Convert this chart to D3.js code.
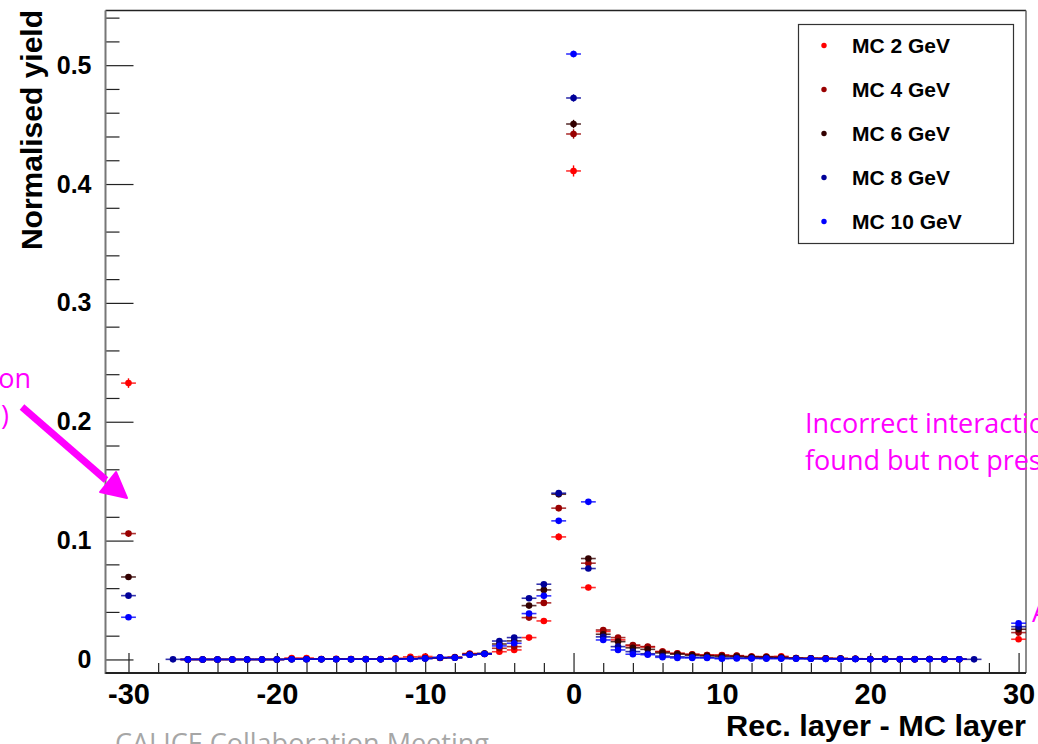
<!DOCTYPE html>
<html lang="en">
<head>
<meta charset="utf-8">
<title>Rec. layer - MC layer</title>
<style>
body {
	margin: 0;
	background: #fff;
}
#chart text {
	font-family: "Liberation Sans", Arial, sans-serif;
}
.tick line {
	stroke: #222;
	stroke-width: 1.2px;
}
.x-label text {
	font-size: 29px;
	font-weight: bold;
	fill: #000;
}
.y-label text {
	font-size: 25px;
	font-weight: bold;
	fill: #000;
}
.title {
	font-size: 30px;
	font-weight: bold;
}
.legend-text {
	font-size: 21px;
	font-weight: bold;
}
#chart text.note {
	font-family: "Open Sans", Lato, sans-serif;
	font-size: 27px;
	fill: #ff00ff;
}
#chart text.footer {
	font-family: "Open Sans", Lato, sans-serif;
	font-size: 27px;
	fill: #a6a6a6;
}
</style>
</head>
<body>
<div id="chart"></div>

<script src="https://d3js.org/d3.v7.min.js"></script>
<script>
	// bins: -30 (no interaction), -27 .. 27, 30
	var layers = [-30].concat(d3.range(-27, 28), [30]);

	var seriesNames = ["MC 2 GeV", "MC 4 GeV", "MC 6 GeV", "MC 8 GeV", "MC 10 GeV"];
	var seriesColors = ["#ff0000", "#990000", "#330000", "#000099", "#0000ff"];
	// rough number of events per sample, only used for the error bars
	var nEvents = [11000, 16000, 20000, 26000, 32000];

	//            -30      -27   -26 .. -20
	var mc2  = [0.2325,  null, 0,0,0,0,0,0,0,
		// -19 .. -13
		0.0012,0.0012,0.0003,0.0005,0.0003,0.0003,0.0003,
		// -12 .. -8
		0.001,0.0022,0.0025,0.0015,0.002,
		// -7 .. -1
		0.005,0.0045,0.0065,0.008,0.0184,0.0324,0.1031,
		// 0
		0.411,
		// 1 .. 10
		0.0605,0.0235,0.0165,0.0115,0.0105,0.0066,0.0052,0.0044,0.0038,0.0038,
		// 11 .. 20
		0.003,0.0024,0.0022,0.0026,0.0012,0.001,0.001,0.0008,0.0006,0.0003,
		// 21 .. 26, 27, 30
		0.0003,0.0002,0.0002,0.0003,0.0002,0.0001, null, 0.017];

	var mc4  = [0.1059,  null, 0,0,0,0,0,0,0,
		0.0003,0.0003,0.0003,0.0003,0.0003,0.0003,0.0003,
		0.0005,0.0008,0.001,0.0012,0.0015,
		0.0045,0.005,0.0094,0.0108,0.0352,0.0476,0.1273,
		0.4421,
		0.081,0.0248,0.0184,0.0122,0.0108,0.0066,0.005,0.0042,0.0036,0.0034,
		0.0032,0.0024,0.0024,0.002,0.0012,0.001,0.001,0.0008,0.0006,0.0004,
		0.0003,0.0003,0.0003,0.0004,0.0002,0.0002, null, 0.0226];

	var mc6  = [0.0694,  null, 0,0,0,0,0,0,0,
		0.0002,0.0002,0.0002,0.0002,0.0002,0.0002,0.0002,
		0.0004,0.0006,0.001,0.0015,0.0016,
		0.0042,0.005,0.013,0.0156,0.0453,0.0585,0.139,
		0.4505,
		0.0849,0.0212,0.015,0.0098,0.0085,0.0055,0.0045,0.0036,0.003,0.0026,
		0.0024,0.002,0.0018,0.0016,0.001,0.0009,0.0008,0.0007,0.0005,0.0003,
		0.0003,0.0002,0.0002,0.0004,0.0002,0.0002, null, 0.0254];

	var mc8  = [0.0537,  0.0001, 0,0,0,0,0,0,0,
		0.0002,0.0002,0.0002,0.0002,0.0002,0.0002,0.0002,
		0.0003,0.0005,0.0008,0.0015,0.0016,
		0.004,0.0048,0.0155,0.0184,0.0515,0.0633,0.1399,
		0.4724,
		0.0765,0.019,0.0108,0.0066,0.0048,0.0028,0.0022,0.0018,0.0016,0.0012,
		0.0012,0.001,0.0009,0.0009,0.0007,0.0006,0.0005,0.0005,0.0004,0.0002,
		0.0002,0.0002,0.0002,0.0002,0.0002,0.0002, 0.0001, 0.0276];

	var mc10 = [0.0355,  null, 0,0,0,0,0,0,0,
		0.0002,0.0002,0.0002,0.0002,0.0002,0.0002,0.0002,
		0.0002,0.0004,0.0008,0.0016,0.0014,
		0.004,0.0046,0.0114,0.0136,0.0386,0.0535,0.1166,
		0.5094,
		0.1326,0.0164,0.008,0.0044,0.004,0.0018,0.0013,0.0013,0.0013,0.0006,
		0.0008,0.0008,0.0007,0.0007,0.0006,0.0006,0.0004,0.0004,0.0003,0.0002,
		0.0002,0.0002,0.0002,0.0002,0.0002,0.0002, null, 0.0305];

	var seriesValues = [mc2, mc4, mc6, mc8, mc10];

	var xMajorTicks = [-30, -20, -10, 0, 10, 20, 30];
	var xMinorTicks = d3.range(-30, 31, 2).filter(function(d) { return d % 10 !== 0; });
	var yMajorTicks = [0, 0.1, 0.2, 0.3, 0.4, 0.5];
	var yMinorTicks = [0.02,0.04,0.06,0.08,0.12,0.14,0.16,0.18,0.22,0.24,0.26,0.28,
		0.32,0.34,0.36,0.38,0.42,0.44,0.46,0.48,0.52,0.54];

	var width = 1038,
		height = 744,
		frameLeft = 105.5,
		frameRight = 1026,
		frameTop = 10.5,
		frameBottom = 673;

	var svg = d3.select("#chart").append("svg")
		.attr("width", width)
		.attr("height", height)
		.attr("viewBox", "0 0 " + width + " " + height);

	var x = d3.scaleLinear().domain([-31.55, 30.5]).range([frameLeft, frameRight]);
	var y = d3.scaleLinear().domain([-0.0114, 0.546]).range([frameBottom, frameTop]);

	// axes - ticks point into the frame like root does
	svg.append("g").attr("class", "x-label")
		.attr("transform", "translate(0," + frameBottom + ")")
		.call(d3.axisBottom(x).tickValues(xMajorTicks).tickSize(-20).tickPadding(10)
			.tickFormat(function(d) { return String(d); }))
		.call(function(g) { g.select(".domain").remove(); });

	svg.append("g")
		.attr("transform", "translate(0," + frameBottom + ")")
		.call(d3.axisBottom(x).tickValues(xMinorTicks).tickSize(-10).tickFormat(""))
		.call(function(g) { g.select(".domain").remove(); });

	svg.append("g").attr("class", "y-label")
		.attr("transform", "translate(" + frameLeft + ",0)")
		.call(d3.axisLeft(y).tickValues(yMajorTicks).tickSize(-28).tickPadding(14)
			.tickFormat(function(d) { return d === 0 ? "0" : d.toFixed(1); }))
		.call(function(g) { g.select(".domain").remove(); });

	svg.append("g")
		.attr("transform", "translate(" + frameLeft + ",0)")
		.call(d3.axisLeft(y).tickValues(yMinorTicks).tickSize(-14).tickFormat(""))
		.call(function(g) { g.select(".domain").remove(); });

	svg.selectAll(".tick text").attr("fill", "#000");

	// frame
	svg.append("line").attr("x1", frameLeft).attr("x2", frameRight).attr("y1", frameTop).attr("y2", frameTop)
		.attr("stroke", "#222").attr("stroke-width", 1.3);
	svg.append("line").attr("x1", frameRight).attr("x2", frameRight).attr("y1", frameTop).attr("y2", frameBottom)
		.attr("stroke", "#666").attr("stroke-width", 1.5);
	svg.append("line").attr("x1", frameLeft).attr("x2", frameLeft).attr("y1", frameTop).attr("y2", frameBottom + 1)
		.attr("stroke", "#777").attr("stroke-width", 2);
	svg.append("line").attr("x1", frameLeft).attr("x2", frameRight).attr("y1", frameBottom).attr("y2", frameBottom)
		.attr("stroke", "#222").attr("stroke-width", 2);

	// titles
	svg.append("text").attr("class", "title")
		.attr("x", frameRight).attr("y", 736)
		.attr("text-anchor", "end")
		.attr("textLength", 300)
		.attr("lengthAdjust", "spacingAndGlyphs")
		.text("Rec. layer - MC layer");

	svg.append("text").attr("class", "title")
		.attr("transform", "translate(42,10) rotate(-90)")
		.attr("text-anchor", "end")
		.text("Normalised yield");

	// points with error bars, drawn 2 GeV first so 10 GeV ends up on top
	seriesValues.forEach(function(values, s) {
		var color = seriesColors[s];
		var pts = layers.map(function(l, i) {
			return { layer: l, value: values[i] };
		}).filter(function(d) { return d.value !== null; });

		var g = svg.append("g").attr("class", "series-" + s);

		g.selectAll("line.xerr").data(pts).enter().append("line")
			.attr("class", "xerr")
			.attr("x1", function(d) { return x(d.layer - 0.5); })
			.attr("x2", function(d) { return x(d.layer + 0.5); })
			.attr("y1", function(d) { return y(d.value); })
			.attr("y2", function(d) { return y(d.value); })
			.attr("stroke", color)
			.attr("stroke-width", 1.6)
			.attr("stroke-opacity", 0.8);

		g.selectAll("line.yerr").data(pts).enter().append("line")
			.attr("class", "yerr")
			.attr("x1", function(d) { return x(d.layer); })
			.attr("x2", function(d) { return x(d.layer); })
			.attr("y1", function(d) {
				var e = Math.sqrt(d.value * (1 - d.value) / nEvents[s]);
				return y(d.value - e);
			})
			.attr("y2", function(d) {
				var e = Math.sqrt(d.value * (1 - d.value) / nEvents[s]);
				return y(d.value + e);
			})
			.attr("stroke", color)
			.attr("stroke-width", 1.4);

		g.selectAll("circle").data(pts).enter().append("circle")
			.attr("cx", function(d) { return x(d.layer); })
			.attr("cy", function(d) { return y(d.value); })
			.attr("r", 3.3)
			.attr("fill", color);
	});

	// legend
	var legend = svg.append("g").attr("class", "legend");
	legend.append("rect")
		.attr("x", 798.5).attr("y", 24.5)
		.attr("width", 215).attr("height", 219)
		.attr("fill", "#fff")
		.attr("stroke", "#333")
		.attr("stroke-width", 1.2);

	var legendY = d3.scalePoint().domain(seriesNames).range([45.5, 221.5]);

	seriesNames.forEach(function(name, i) {
		legend.append("circle")
			.attr("cx", 824).attr("cy", legendY(name))
			.attr("r", 2.7)
			.attr("fill", seriesColors[i]);
		legend.append("text").attr("class", "legend-text")
			.attr("x", 852).attr("y", legendY(name))
			.attr("dy", "0.36em")
			.text(name);
	});

	// slide annotations
	svg.append("text").attr("class", "note")
		.attr("x", 31).attr("y", 388).attr("text-anchor", "end")
		.text("No interaction");
	svg.append("text").attr("class", "note")
		.attr("x", 9).attr("y", 425).attr("text-anchor", "end")
		.text("found (set to -30)");

	svg.append("line")
		.attr("x1", 22).attr("y1", 407).attr("x2", 106).attr("y2", 480)
		.attr("stroke", "#ff00ff").attr("stroke-width", 7);
	svg.append("path")
		.attr("d", "M100,492 L116,472 L127,498 Z")
		.attr("fill", "#ff00ff")
		.attr("stroke", "#ff00ff")
		.attr("stroke-width", 2)
		.attr("stroke-linejoin", "round");

	svg.append("text").attr("class", "note")
		.attr("x", 805).attr("y", 433)
		.text("Incorrect interaction layer");
	svg.append("text").attr("class", "note")
		.attr("x", 805).attr("y", 470)
		.text("found but not present");
	svg.append("text").attr("class", "note")
		.attr("x", 1032).attr("y", 622)
		.text("After last layer");

	svg.append("text").attr("class", "footer")
		.attr("x", 115).attr("y", 753)
		.text("CALICE Collaboration Meeting");
</script>
</body>
</html>
